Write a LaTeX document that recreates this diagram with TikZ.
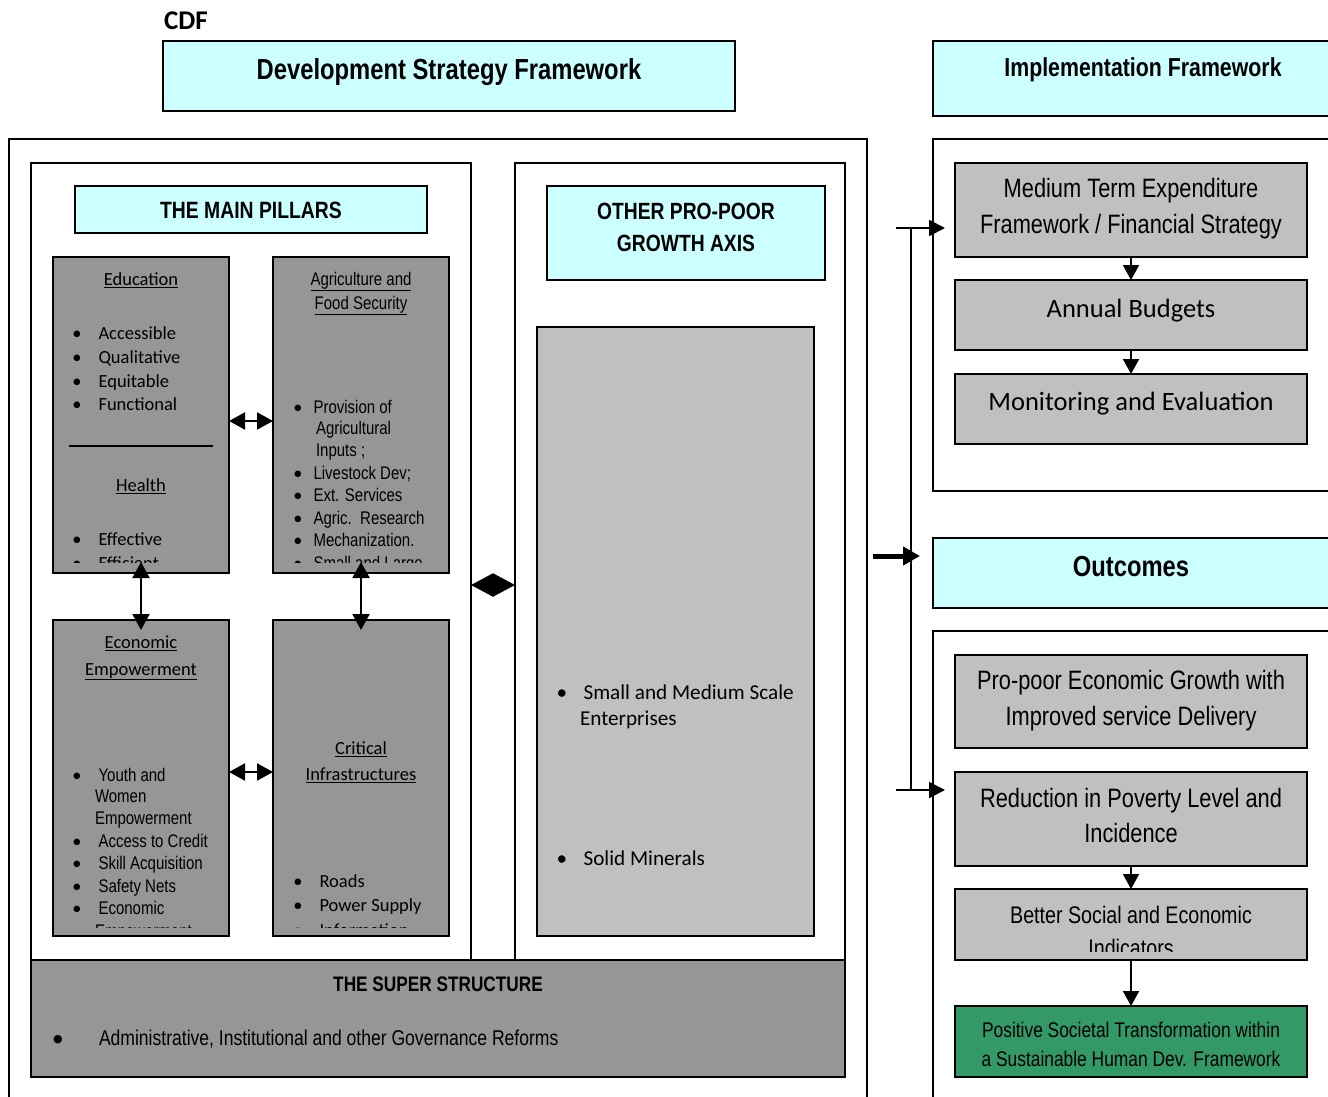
\documentclass[tikz,border=0pt]{standalone}
\usepackage{fontspec}
\setmainfont{Liberation Sans}
\newfontfamily\nar[FakeStretch=0.82]{Liberation Sans}
\newfontfamily\calib{Carlito}
\newfontfamily\dejavu{DejaVu Sans}
\usetikzlibrary{arrows.meta}

\definecolor{paleCyan}{HTML}{CCFFFF}
\definecolor{pillarGray}{HTML}{969696}
\definecolor{softGray}{HTML}{C0C0C0}
\definecolor{goalGreen}{HTML}{339966}

% box from its top-left to its bottom-right corner (pixel-like units, y downwards)
\newcommand\boxat[6]{\node[#1,anchor=north west,minimum width={(#5-#3)*1pt},minimum height={(#6-#4)*1pt}] (#2) at (#3,#4) {};}
% a line of text
\newcommand\txt[5]{\node[#1] (#2) at (#3,#4) {#5};}
% a bulleted line: style, name, bullet x, text x, y, text
\newcommand\itm[6]{\node[#1,anchor=base] (#2b) at (#3,#5) {\calib\textbullet};\node[#1,anchor=base west] (#2) at (#4,#5) {#6};}

\tikzset{
  boxbase/.style={draw=black,line width=2pt,inner sep=0pt,outer sep=0pt},
  frame/.style={boxbase,fill=white},
  cyanbox/.style={boxbase,fill=paleCyan},
  pillar/.style={boxbase,fill=pillarGray},
  lightbox/.style={boxbase,fill=softGray},
  greenbox/.style={boxbase,fill=goalGreen},
  tbase/.style={inner sep=0pt,outer sep=0pt},
  c/.style={tbase,anchor=base},
  l/.style={tbase,anchor=base west},
  cdfF/.style={font=\calib\bfseries\fontsize{27}{32}\selectfont,yshift=-8.5pt},
  dsfF/.style={font=\nar\bfseries\fontsize{29}{34}\selectfont,yshift=-10pt},
  implF/.style={font=\nar\bfseries\fontsize{26}{30}\selectfont,yshift=-9pt},
  pillF/.style={font=\nar\bfseries\fontsize{23.6}{27}\selectfont,yshift=-7.8pt},
  otherF/.style={font=\nar\bfseries\fontsize{23.5}{27}\selectfont,yshift=-8pt},
  outF/.style={font=\nar\bfseries\fontsize{29}{34}\selectfont,yshift=-10pt},
  supF/.style={font=\nar\bfseries\fontsize{21}{25}\selectfont,yshift=-7pt},
  supItemF/.style={font=\nar\fontsize{21.4}{25}\selectfont,yshift=-7pt},
  calS/.style={font=\calib\fontsize{18.5}{22}\selectfont,yshift=-6.2pt},
  narS/.style={font=\nar\fontsize{18.3}{22}\selectfont,yshift=-6.2pt},
  calM/.style={font=\calib\fontsize{21.2}{25}\selectfont,yshift=-7pt},
  rNar/.style={font=\nar\fontsize{26.6}{31}\selectfont,yshift=-8.8pt},
  calL/.style={font=\calib\fontsize{26.5}{31}\selectfont,yshift=-8.8pt},
  betterF/.style={font=\nar\fontsize{24}{28}\selectfont,yshift=-8pt},
  greenF/.style={font=\nar\fontsize{21.2}{25}\selectfont,yshift=-7pt},
  dblarrow/.style={{Triangle[length=16pt,width=17pt]}-{Triangle[length=16pt,width=17pt]},line width=2pt},
  diamondarrow/.style={{Triangle[length=22pt,width=23pt]}-{Triangle[length=22pt,width=23pt]},line width=2pt},
  downarrow/.style={-{Triangle[length=15pt,width=16pt]},line width=2pt},
  feed/.style={-{Triangle[length=16pt,width=16pt]},line width=2pt},
  push/.style={-{Triangle[length=17pt,width=18pt]},line width=5pt},
}

\begin{document}
\begin{tikzpicture}[x=1pt,y=-1pt]
\clip (0,0) rectangle (1328,1097);
\fill[white] (0,0) rectangle (1328,1097);

% ---------- headings ----------
\txt{l,cdfF}{cdf}{164}{21}{CDF}
\boxat{cyanbox}{dsf}{163}{41}{735}{111}
\txt{c,dsfF}{dsfT}{449}{70}{Development Strategy Framework}
\boxat{cyanbox}{impl}{933}{41}{1353}{116}
\txt{c,implF}{implT}{1143}{68}{Implementation Framework}

% ---------- strategy side ----------
\boxat{frame}{strategy}{9}{139}{867}{1130}
\boxat{frame}{pillars}{31}{163}{471}{960}
\boxat{frame}{axis}{515}{163}{845}{960}
\boxat{pillar}{superstr}{31}{960}{845}{1077}
\txt{c,supF}{supT}{438}{984}{THE SUPER STRUCTURE}
\node[tbase,anchor=base,font=\dejavu\fontsize{11}{13}\selectfont,yshift=-4pt] (supB) at (58,1038) {●};
\txt{l,supItemF}{supI}{99}{1038}{Administrative, Institutional and other Governance Reforms}

\boxat{cyanbox}{pillHead}{75}{186}{427}{233}
\txt{c,pillF}{pillT}{251}{211}{THE MAIN PILLARS}

\boxat{pillar}{edu}{53}{257}{229}{573}
\boxat{pillar}{agr}{273}{257}{449}{573}
\boxat{pillar}{econ}{53}{620}{229}{936}
\boxat{pillar}{infra}{273}{620}{449}{936}

% education and health
\begin{scope}
\clip (53,257) rectangle (229,562);
\txt{c,calS}{eduT}{141}{279}{\underline{Education}}
\itm{calS}{e1}{77}{95}{333}{Accessible}
\itm{calS}{e2}{77}{95}{357}{Qualitative}
\itm{calS}{e3}{77}{95}{381}{Equitable}
\itm{calS}{e4}{77}{95}{404}{Functional}
\draw[line width=2pt] (69,446) -- (213,446);
\txt{c,calS}{hlthT}{141}{485}{\underline{Health}}
\itm{calS}{h1}{77}{95}{539}{Effective}
\itm{calS}{h2}{77}{95}{563}{Efficient}
\end{scope}

% agriculture
\begin{scope}
\clip (273,257) rectangle (449,562);
\txt{c,narS}{agrT1}{361}{279}{\underline{Agriculture and}}
\txt{c,narS}{agrT2}{361}{303}{\underline{Food Security}}
\itm{narS}{a1}{298}{310}{407}{Provision of}
\txt{l,narS}{a1b}{316}{428}{Agricultural}
\txt{l,narS}{a1c}{316}{450}{Inputs ;}
\itm{narS}{a2}{298}{310}{473}{Livestock Dev;}
\itm{narS}{a3}{298}{310}{495}{Ext. Services}
\itm{narS}{a4}{298}{310}{518}{Agric.\ \ Research}
\itm{narS}{a5}{298}{310}{540}{Mechanization.}
\itm{narS}{a6}{298}{310}{563}{Small and Large}
\end{scope}

% economic empowerment
\begin{scope}
\clip (53,620) rectangle (229,927);
\txt{c,calS}{econT1}{141}{642}{\underline{Economic}}
\txt{c,calS}{econT2}{141}{669}{\underline{Empowerment}}
\itm{narS}{c1}{77}{95}{775}{Youth and}
\txt{l,narS}{c1b}{95}{796}{Women}
\txt{l,narS}{c1c}{95}{818}{Empowerment}
\itm{narS}{c2}{77}{95}{841}{Access to Credit}
\itm{narS}{c3}{77}{95}{863}{Skill Acquisition}
\itm{narS}{c4}{77}{95}{886}{Safety Nets}
\itm{narS}{c5}{77}{95}{908}{Economic}
\txt{l,narS}{c5b}{95}{931}{Empowerment}
\end{scope}

% critical infrastructures
\begin{scope}
\clip (273,620) rectangle (449,927);
\txt{c,calS}{infT1}{361}{748}{\underline{Critical}}
\txt{c,calS}{infT2}{361}{774}{\underline{Infrastructures}}
\itm{calS}{i1}{298}{316}{881}{Roads}
\itm{calS}{i2}{298}{316}{905}{Power Supply}
\itm{calS}{i3}{298}{316}{930}{Information}
\end{scope}

% other pro-poor growth axis
\boxat{cyanbox}{axisHead}{547}{186}{825}{280}
\txt{c,otherF}{axisT1}{686}{211}{OTHER PRO-POOR}
\txt{c,otherF}{axisT2}{686}{243}{GROWTH AXIS}
\boxat{lightbox}{axisBody}{537}{327}{814}{936}
\itm{calM}{o1}{562}{580}{692}{Small and Medium Scale}
\txt{l,calM}{o1b}{580}{718}{Enterprises}
\itm{calM}{o2}{562}{580}{858}{Solid Minerals}

% links between the pillars
\draw[dblarrow] ([yshift=-6pt]edu.east) -- ([yshift=-6pt]agr.west);
\draw[dblarrow] ([yshift=6pt]econ.east) -- ([yshift=6pt]infra.west);
\draw[dblarrow] ([yshift=11pt]edu.south) -- ([yshift=-10pt]econ.north);
\draw[dblarrow] ([yshift=11pt]agr.south) -- ([yshift=-10pt]infra.north);
\draw[diamondarrow] ([yshift=-23.5pt]pillars.east) -- ([yshift=-23.5pt]axis.west);

% ---------- implementation side ----------
\boxat{frame}{implBody}{933}{139}{1353}{491}
\boxat{lightbox}{mtef}{955}{163}{1307}{257}
\txt{c,rNar}{mtefT1}{1131}{189}{Medium Term Expenditure}
\txt{c,rNar}{mtefT2}{1131}{225}{Framework / Financial Strategy}
\boxat{lightbox}{budget}{955}{280}{1307}{350}
\txt{c,calL}{budgetT}{1131}{309}{Annual Budgets}
\boxat{lightbox}{mne}{955}{374}{1307}{444}
\txt{c,calL}{mneT}{1131}{402}{Monitoring and Evaluation}
\draw[downarrow] (mtef.south) -- (budget.north);
\draw[downarrow] (budget.south) -- (mne.north);

% ---------- outcomes ----------
\boxat{cyanbox}{outcomes}{933}{538}{1345}{608}
\txt{c,outF}{outT}{1131}{566}{Outcomes}
\boxat{frame}{outBody}{933}{631}{1353}{1130}
\boxat{lightbox}{propoor}{955}{655}{1307}{748}
\txt{c,rNar}{ppT1}{1131}{681}{Pro-poor Economic Growth with}
\txt{c,rNar}{ppT2}{1131}{717}{Improved service Delivery}
\boxat{lightbox}{reduce}{955}{772}{1307}{866}
\txt{c,rNar}{rdT1}{1131}{799}{Reduction in Poverty Level and}
\txt{c,rNar}{rdT2}{1131}{834}{Incidence}
\boxat{lightbox}{better}{955}{889}{1307}{960}
\begin{scope}
\clip (955,889) rectangle (1307,951);
\txt{c,betterF}{btT1}{1131}{915}{Better Social and Economic}
\txt{c,betterF}{btT2}{1131}{948}{Indicators}
\end{scope}
\boxat{greenbox}{goal}{955}{1006}{1307}{1077}
\txt{c,greenF}{goalT1}{1131}{1030}{Positive Societal Transformation within}
\txt{c,greenF}{goalT2}{1131}{1059}{a Sustainable Human Dev. Framework}
\draw[downarrow] (reduce.south) -- (better.north);
\draw[downarrow] (better.south) -- (goal.north);

% ---------- feeds from the strategy ----------
\coordinate (feedTop) at (896,228);
\coordinate (feedBot) at (896,790);
\coordinate (spineTop) at (911,228);
\coordinate (spineBot) at (911,790);
\coordinate (pushStart) at (873,556);
\draw[line width=2pt] (spineTop) -- (spineBot);
\draw[feed,shorten >=10pt] (feedTop) -- (feedTop -| mtef.west);
\draw[feed,shorten >=10pt] (feedBot) -- (feedBot -| reduce.west);
\draw[push,shorten >=13pt] (pushStart) -- (pushStart -| outcomes.west);
\end{tikzpicture}
\end{document}
